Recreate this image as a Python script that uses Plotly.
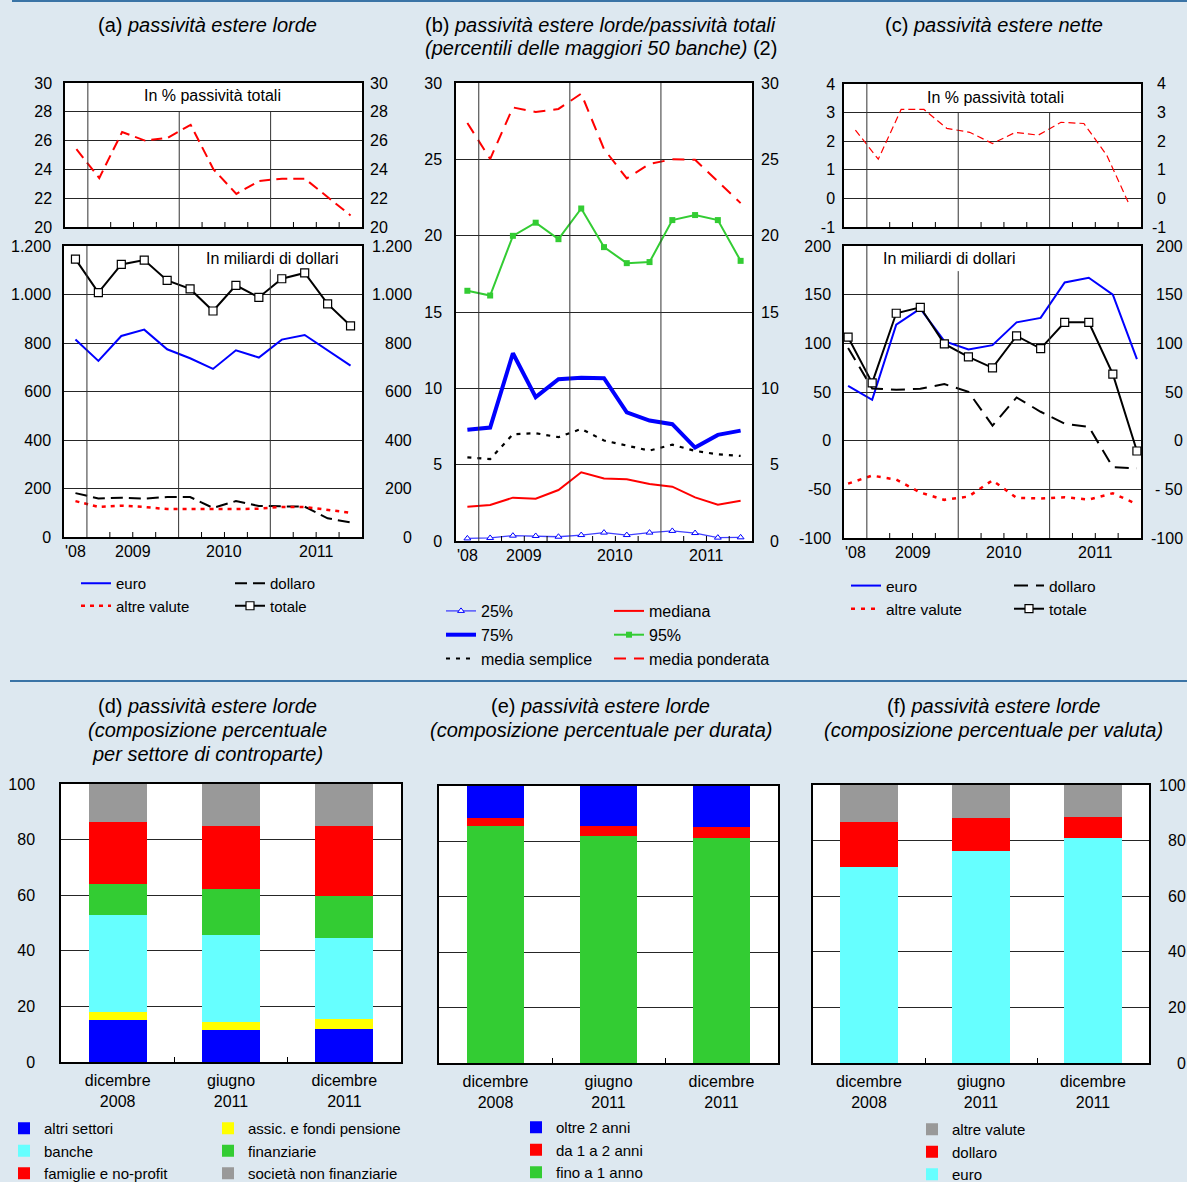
import plotly.graph_objects as go

# ---------------------------------------------------------------------------
# Data
# ---------------------------------------------------------------------------
quarters = ["2008-T4", "2009-T1", "2009-T2", "2009-T3", "2009-T4",
            "2010-T1", "2010-T2", "2010-T3", "2010-T4",
            "2011-T1", "2011-T2", "2011-T3", "2011-T4"]
year_labels = ["'08", "2009", "2010", "2011"]

# (a) gross foreign liabilities
a_share = [25.4, 23.4, 26.6, 26.0, 26.2, 27.1, 24.0, 22.3, 23.2, 23.35, 23.35, 22.1, 20.8]
a_euro = [814, 726, 829, 855, 774, 737, 693, 770, 740, 814, 833, 770, 707]
a_dollaro = [181, 159, 162, 158, 165, 165, 120, 148, 128, 128, 125, 77, 60]
a_altre = [148, 124, 129, 124, 115, 114, 115, 115, 117, 124, 124, 113, 100]
a_totale = [1146, 1008, 1124, 1142, 1058, 1023, 932, 1038, 988, 1065, 1089, 961, 871]

# (b) gross foreign / total liabilities, percentiles of the 50 largest banks
b_p25 = [0.17, 0.20, 0.35, 0.33, 0.28, 0.39, 0.55, 0.39, 0.55, 0.66, 0.52, 0.22, 0.24]
b_p75 = [7.28, 7.43, 12.3, 9.42, 10.6, 10.7, 10.66, 8.43, 7.89, 7.65, 6.12, 6.95, 7.23]
b_media_semplice = [5.48, 5.37, 6.99, 7.06, 6.8, 7.34, 6.58, 6.25, 5.92, 6.31, 5.9, 5.68, 5.57]
b_mediana = [2.25, 2.36, 2.84, 2.77, 3.34, 4.5, 4.09, 4.04, 3.74, 3.56, 2.86, 2.38, 2.64]
b_p95 = [16.39, 16.08, 19.99, 20.85, 19.77, 21.78, 19.25, 18.2, 18.27, 21.02, 21.35, 21.02, 18.35]
b_media_ponderata = [27.38, 25.02, 28.4, 28.1, 28.3, 29.3, 25.67, 23.75, 24.7, 25.0, 24.97, 23.55, 22.13]

# (c) net foreign liabilities
c_share = [2.39, 1.37, 3.11, 3.11, 2.45, 2.31, 1.92, 2.31, 2.21, 2.66, 2.62, 1.51, -0.24]
c_euro = [56.4, 42.0, 119.2, 135.6, 102.2, 93.6, 98.1, 121.6, 126.1, 162.6, 167.4, 150.0, 83.7]
c_dollaro = [95.3, 53.6, 52.3, 53.3, 58.1, 50.2, 15.4, 44.4, 29.7, 17.4, 14.3, -27.3, -28.4]
c_altre = [-44.1, -35.9, -40.0, -53.3, -60.8, -57.4, -40.7, -58.8, -59.4, -58.1, -60.5, -54.0, -65.3]
c_totale = [106.3, 59.4, 130.9, 137.0, 99.4, 86.1, 74.8, 107.6, 94.6, 121.6, 121.6, 68.3, -10.6]

# (d)-(f) composition at three dates
dates = ["dicembre<br>2008", "giugno<br>2011", "dicembre<br>2011"]

d_altri_settori = [15.0, 11.4, 12.0]
d_assic = [3.1, 3.1, 3.3]
d_banche = [34.6, 31.3, 29.2]
d_finanziarie = [11.5, 16.4, 15.3]
d_famiglie = [22.1, 22.8, 25.2]
d_snf = [13.7, 15.0, 15.0]

e_fino_1 = [85.5, 81.8, 81.2]
e_da_1_a_2 = [2.9, 3.6, 3.9]
e_oltre_2 = [11.6, 14.6, 14.9]

f_euro = [70.6, 76.4, 80.9]
f_dollaro = [16.1, 11.7, 7.6]
f_altre = [13.3, 11.9, 11.5]

# ---------------------------------------------------------------------------
# Styling helpers
# ---------------------------------------------------------------------------
W, H = 1187, 1182
FONT = "Liberation Sans, Arial, Helvetica, sans-serif"
BG = "#dde8f0"
RULE = "#3a74a6"
GRID = "#262626"
BLUE, RED, GREEN = "#0000ff", "#ff0000", "#33cc33"
CYAN, YELLOW, GREY = "#66ffff", "#ffff00", "#999999"

qx = list(range(len(quarters)))


def xd(left, right):
    return [left / W, right / W]


def yd(top, bottom):
    return [1 - bottom / H, 1 - top / H]


def time_xaxis(dom, rng, anchor):
    return dict(domain=dom, range=rng, anchor=anchor, showgrid=False, zeroline=False,
                showline=True, mirror=True, linecolor="black", linewidth=1.5,
                ticks="", showticklabels=False, fixedrange=True)


def cat_xaxis(dom, anchor):
    return dict(domain=dom, anchor=anchor, type="category", showgrid=False, zeroline=False,
                showline=True, mirror=True, linecolor="black", linewidth=1.5,
                ticks="inside", tickson="boundaries", ticklen=5, tickcolor="black",
                tickfont=dict(size=16, color="black"), ticklabelstandoff=3, fixedrange=True)


def value_yaxis(dom, rng, vals, text, anchor, show=True, standoff=8):
    return dict(domain=dom, range=rng, anchor=anchor, tickvals=vals, ticktext=text,
                showticklabels=show, showgrid=True, gridcolor=GRID, gridwidth=1,
                zeroline=False, showline=True, mirror=True, linecolor="black", linewidth=1.5,
                ticks="", tickfont=dict(size=16, color="black"),
                ticklabelstandoff=standoff, fixedrange=True)


def legend_box(left, top, size, order="normal"):
    return dict(x=left / W, y=1 - top / H, xanchor="left", yanchor="top",
                orientation="v", bgcolor="rgba(0,0,0,0)", borderwidth=0,
                font=dict(size=size, color="black", family=FONT),
                traceorder=order, itemwidth=30, tracegroupgap=0,
                itemclick=False, itemdoubleclick=False)


fig = go.Figure()


def line(x, y, ax, name, color, width, dash="solid", legend=None, marker=None):
    mode = "lines+markers" if marker else "lines"
    fig.add_trace(go.Scatter(
        x=x, y=y, xaxis=ax[0], yaxis=ax[1], mode=mode, name=name,
        line=dict(color=color, width=width, dash=dash),
        marker=marker or {}, showlegend=legend is not None,
        legend=legend or "legend", hoverinfo="skip"))


def bar(x, y, ax, name, color, legend):
    fig.add_trace(go.Bar(
        x=x, y=y, xaxis=ax[0], yaxis=ax[1], name=name, width=0.51,
        marker=dict(color=color, line=dict(width=0)), legend=legend, hoverinfo="skip"))


open_square = dict(symbol="square", size=8, color="white", line=dict(color="black", width=1.2))

# (a) upper: share of total liabilities
line(qx, a_share, ("x", "y"), "In % passività totali", RED, 2, "11px,6px")
# (a) lower: billions of dollars
line(qx, a_euro, ("x2", "y2"), "euro", BLUE, 2, legend="legend")
line(qx, a_dollaro, ("x2", "y2"), "dollaro", "black", 2, "12px,6px", legend="legend2")
line(qx, a_altre, ("x2", "y2"), "altre valute", RED, 2.5, "4px,5px", legend="legend")
line(qx, a_totale, ("x2", "y2"), "totale", "black", 2, legend="legend2", marker=open_square)

# (b) percentiles
line(qx, b_p25, ("x3", "y3"), "25%", "#4040ff", 1.3, legend="legend3",
     marker=dict(symbol="triangle-up", size=6, color="white", line=dict(color=BLUE, width=1)))
line(qx, b_p75, ("x3", "y3"), "75%", BLUE, 4, legend="legend3")
line(qx, b_media_semplice, ("x3", "y3"), "media semplice", "black", 2.2, "4px,6px", legend="legend3")
line(qx, b_mediana, ("x3", "y3"), "mediana", RED, 2, legend="legend4")
line(qx, b_p95, ("x3", "y3"), "95%", GREEN, 2, legend="legend4",
     marker=dict(symbol="square", size=6, color=GREEN))
line(qx, b_media_ponderata, ("x3", "y3"), "media ponderata", RED, 2, "12px,8px", legend="legend4")

# (c) upper: share of total liabilities
line(qx, c_share, ("x4", "y4"), "In % passività totali", RED, 1.2, "7px,4px")
# (c) lower: billions of dollars
line(qx, c_euro, ("x5", "y5"), "euro", BLUE, 2, legend="legend5")
line(qx, c_dollaro, ("x5", "y5"), "dollaro", "black", 2, "14px,8px", legend="legend6")
line(qx, c_altre, ("x5", "y5"), "altre valute", RED, 2.5, "4px,6px", legend="legend5")
line(qx, c_totale, ("x5", "y5"), "totale", "black", 2, legend="legend6", marker=open_square)

# (d) by counterpart sector
bar(dates, d_altri_settori, ("x6", "y6"), "altri settori", BLUE, "legend7")
bar(dates, d_assic, ("x6", "y6"), "assic. e fondi pensione", YELLOW, "legend8")
bar(dates, d_banche, ("x6", "y6"), "banche", CYAN, "legend7")
bar(dates, d_finanziarie, ("x6", "y6"), "finanziarie", GREEN, "legend8")
bar(dates, d_famiglie, ("x6", "y6"), "famiglie e no-profit", RED, "legend7")
bar(dates, d_snf, ("x6", "y6"), "società non finanziarie", GREY, "legend8")

# (e) by maturity
bar(dates, e_fino_1, ("x7", "y7"), "fino a 1 anno", GREEN, "legend9")
bar(dates, e_da_1_a_2, ("x7", "y7"), "da 1 a 2 anni", RED, "legend9")
bar(dates, e_oltre_2, ("x7", "y7"), "oltre 2 anni", BLUE, "legend9")

# (f) by currency
bar(dates, f_euro, ("x8", "y8"), "euro", CYAN, "legend10")
bar(dates, f_dollaro, ("x8", "y8"), "dollaro", RED, "legend10")
bar(dates, f_altre, ("x8", "y8"), "altre valute", GREY, "legend10")

# ---------------------------------------------------------------------------
# Axes
# ---------------------------------------------------------------------------
Q_RANGE = [-0.5, 12.5]
pct100 = [0, 20, 40, 60, 80, 100]

layout_axes = dict(
    xaxis=time_xaxis(xd(65, 362), Q_RANGE, "y"),
    yaxis=value_yaxis(yd(83, 227), [20, 30], [20, 22, 24, 26, 28, 30],
                      ["20", "22", "24", "26", "28", "30"], "x", standoff=8),
    xaxis2=time_xaxis(xd(64, 362), Q_RANGE, "y2"),
    yaxis2=value_yaxis(yd(246, 537), [0, 1200], [0, 200, 400, 600, 800, 1000, 1200],
                       ["0", "200", "400", "600", "800", "1.000", "1.200"], "x2", standoff=8),
    xaxis3=time_xaxis(xd(456, 752), Q_RANGE, "y3"),
    yaxis3=value_yaxis(yd(83, 541), [0, 30], [0, 5, 10, 15, 20, 25, 30],
                       ["0", "5", "10", "15", "20", "25", "30"], "x3", standoff=9),
    xaxis4=time_xaxis(xd(844, 1141), Q_RANGE, "y4"),
    yaxis4=value_yaxis(yd(84, 227), [-1, 4], [-1, 0, 1, 2, 3, 4],
                       ["-1", "0", "1", "2", "3", "4"], "x4", standoff=4),
    xaxis5=time_xaxis(xd(844, 1141), [-0.17, 12.17], "y5"),
    yaxis5=value_yaxis(yd(246, 538), [-100, 200], [-100, -50, 0, 50, 100, 150, 200],
                       ["-100", "-50", "0", "50", "100", "150", "200"], "x5", standoff=8),
    xaxis6=cat_xaxis(xd(61, 401), "y6"),
    yaxis6=value_yaxis(yd(784, 1062), [0, 100], pct100, [str(v) for v in pct100], "x6", standoff=21),
    xaxis7=cat_xaxis(xd(439, 778), "y7"),
    yaxis7=value_yaxis(yd(786, 1063), [0, 100], pct100, [str(v) for v in pct100], "x7", show=False),
    xaxis8=cat_xaxis(xd(813, 1149), "y8"),
    yaxis8=value_yaxis(yd(785, 1063), [0, 100], pct100, [str(v) for v in pct100], "x8", show=False),
)

# ---------------------------------------------------------------------------
# Decorations: rules, year separators, quarter ticks, labels
# ---------------------------------------------------------------------------
shapes = [
    dict(type="line", xref="paper", yref="paper", x0=12 / W, x1=1, y0=1 - 1 / H, y1=1 - 1 / H,
         line=dict(color=RULE, width=2)),
    dict(type="line", xref="paper", yref="paper", x0=10 / W, x1=1, y0=1 - 681 / H, y1=1 - 681 / H,
         line=dict(color=RULE, width=2)),
]
annotations = []

N_SLOTS = 13                 # quarter slots across each time axis
year_bounds = [1, 5, 9]
quarter_ticks = [2, 3, 4, 6, 7, 8, 10, 11, 12]
label_slots = [0.5, 3, 7, 11]

time_panels = [
    # x axis, y axis, top of each year separator (fraction of height), show year labels
    ("x", "y", {1: 1, 5: 0.8, 9: 0.8}, False),
    ("x2", "y2", {1: 1, 5: 1, 9: 0.92}, True),
    ("x3", "y3", {1: 1, 5: 1, 9: 1}, True),
    ("x4", "y4", {1: 1, 5: 0.8, 9: 0.8}, False),
    ("x5", "y5", {1: 1, 5: 0.914, 9: 1}, True),
]
for xa, ya, tops, show_years in time_panels:
    for k in year_bounds:
        f = k / N_SLOTS
        shapes.append(dict(type="line", xref=f"{xa} domain", yref=f"{ya} domain",
                           x0=f, x1=f, y0=0, y1=tops[k], line=dict(color="#333333", width=1)))
    for k in quarter_ticks:
        f = k / N_SLOTS
        shapes.append(dict(type="line", xref=f"{xa} domain", yref=f"{ya} domain",
                           x0=f, x1=f, ysizemode="pixel", yanchor=0, y0=0, y1=5,
                           line=dict(color="black", width=1)))
    if show_years:
        for s, lab in zip(label_slots, year_labels):
            annotations.append(dict(text=lab, xref=f"{xa} domain", yref=f"{ya} domain",
                                    x=s / N_SLOTS, y=0, xanchor="center", yanchor="top",
                                    yshift=-4, showarrow=False,
                                    font=dict(size=16, color="black")))

# right-hand value labels (right aligned)
right_labels = [
    ("y", 390, [20, 22, 24, 26, 28, 30], ["20", "22", "24", "26", "28", "30"]),
    ("y2", 414, [0, 200, 400, 600, 800, 1000, 1200],
     ["0", "200", "400", "600", "800", "1.000", "1.200"]),
    ("y3", 781, [0, 5, 10, 15, 20, 25, 30], ["0", "5", "10", "15", "20", "25", "30"]),
    ("y4", 1168, [-1, 0, 1, 2, 3, 4], ["-1", "0", "1", "2", "3", "4"]),
    ("y5", 1185, [-100, -50, 0, 50, 100, 150, 200],
     ["-100", "- 50", "0", "50", "100", "150", "200"]),
    ("y8", 1188, pct100, [str(v) for v in pct100]),
]
for ya, right, vals, texts in right_labels:
    for v, t in zip(vals, texts):
        annotations.append(dict(text=t, xref="paper", yref=ya, x=right / W, y=v,
                                xanchor="right", yanchor="middle", showarrow=False,
                                font=dict(size=16, color="black")))

# inner panel captions
for text, cx, cy in [("In % passività totali", 212, 95),
                     ("In miliardi di dollari", 272, 258),
                     ("In % passività totali", 996, 97),
                     ("In miliardi di dollari", 949, 259)]:
    annotations.append(dict(text=text, xref="paper", yref="paper", x=cx / W, y=1 - cy / H,
                            xanchor="center", yanchor="middle", showarrow=False,
                            font=dict(size=16, color="black")))

# panel titles, one annotation per line
titles = [
    ("(a) <i>passività estere lorde</i>", 207, 25),
    ("(b) <i>passività estere lorde/passività totali</i>", 601, 25),
    ("<i>(percentili delle maggiori 50 banche)</i> (2)", 601, 48),
    ("(c) <i>passività estere nette</i>", 994, 25),
    ("(d) <i>passività estere lorde</i>", 207, 706),
    ("<i>(composizione percentuale</i>", 207, 730),
    ("<i>per settore di controparte)</i>", 207, 754),
    ("(e) <i>passività estere lorde</i>", 601, 706),
    ("<i>(composizione percentuale per durata)</i>", 601, 730),
    ("(f) <i>passività estere lorde</i>", 994, 706),
    ("<i>(composizione percentuale per valuta)</i>", 994, 730),
]
for text, cx, cy in titles:
    annotations.append(dict(text=text, xref="paper", yref="paper", x=cx / W, y=1 - cy / H,
                            xanchor="center", yanchor="middle", showarrow=False,
                            font=dict(size=20, color="black")))

fig.update_layout(
    width=W, height=H,
    margin=dict(l=0, r=0, t=0, b=0, autoexpand=False),
    paper_bgcolor=BG, plot_bgcolor="white",
    font=dict(family=FONT, size=16, color="black"),
    barmode="stack",
    shapes=shapes, annotations=annotations,
    legend=legend_box(76, 567, 15),
    legend2=legend_box(230, 567, 15),
    legend3=legend_box(441, 594, 16),
    legend4=legend_box(609, 594, 16),
    legend5=legend_box(846, 569, 15.5),
    legend6=legend_box(1009, 569, 15.5),
    legend7=legend_box(4, 1112, 15),
    legend8=legend_box(208, 1112, 15),
    legend9=legend_box(516, 1111, 15, "reversed"),
    legend10=legend_box(912, 1113, 15, "reversed"),
    **layout_axes,
)

fig.write_html("out.html", config={"displayModeBar": False})
